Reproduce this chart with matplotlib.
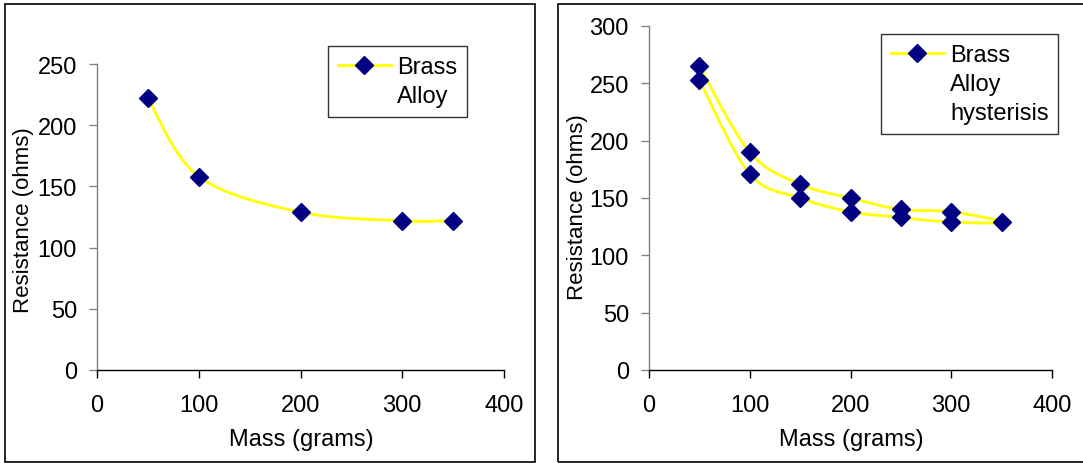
import numpy as np
import matplotlib
matplotlib.use("Agg")
import matplotlib.pyplot as plt
from matplotlib.lines import Line2D
from matplotlib.patches import Rectangle

plt.rcParams['font.family'] = ['Liberation Sans', 'DejaVu Sans']

# ---- data ----
left_mass = [50, 100, 200, 300, 350]
left_res = [222, 158, 129, 122, 122]

right_mass = [50, 100, 150, 200, 250, 300, 350, 300, 250, 200, 150, 100, 50]
right_res = [265, 190, 162, 150, 140, 138, 129, 129, 133, 138, 150, 171, 253]

left_xticks = [0, 100, 200, 300, 400]
left_yticks = [0, 50, 100, 150, 200, 250]
right_xticks = [0, 100, 200, 300, 400]
right_yticks = [0, 50, 100, 150, 200, 250, 300]

left_legend = ["Brass", "Alloy"]
right_legend = ["Brass", "Alloy", "hysterisis"]
xlabel = "Mass (grams)"
ylabel = "Resistance (ohms)"

LINE_C = "#FFFF00"
MARK_C = "#000080"
FS = 17
FS_Y = 16
LW = 2.0


def smooth(xs, ys, n=30):
    """Excel-like smoothed line: Catmull-Rom via cubic Bezier segments."""
    p = np.column_stack([xs, ys]).astype(float)
    out = []
    m = len(p)
    for i in range(m - 1):
        p0 = p[i - 1] if i > 0 else p[i]
        p1 = p[i]
        p2 = p[i + 1]
        p3 = p[i + 2] if i + 2 < m else p[i + 1]
        c1 = p1 + (p2 - p0) / 6.0
        c2 = p2 - (p3 - p1) / 6.0
        t = np.linspace(0, 1, n)[:, None]
        seg = ((1 - t) ** 3) * p1 + 3 * ((1 - t) ** 2) * t * c1 + 3 * (1 - t) * t ** 2 * c2 + t ** 3 * p2
        out.append(seg if i == 0 else seg[1:])
    s = np.vstack(out)
    return s[:, 0], s[:, 1]


W, H = 1083, 464
fig = plt.figure(figsize=(W / 100, H / 100), dpi=100)


def px_axes(x0, x1, ytop, ybot):
    return fig.add_axes([x0 / W, 1 - ybot / H, (x1 - x0) / W, (ybot - ytop) / H])


def style(ax, xt, yt):
    ax.set_xlim(xt[0], xt[-1])
    ax.set_ylim(yt[0], yt[-1])
    ax.set_xticks(xt)
    ax.set_yticks(yt)
    for s in ("top", "right"):
        ax.spines[s].set_visible(False)
    ax.spines["left"].set_color("#808080")
    ax.spines["bottom"].set_color("#000000")
    ax.spines["left"].set_linewidth(1.0)
    ax.spines["bottom"].set_linewidth(1.0)
    ax.tick_params(axis="y", direction="out", length=5.5, width=1.0, color="#808080",
                   pad=9, labelsize=FS)
    ax.tick_params(axis="x", direction="out", length=5.5, width=1.0, color="#000000",
                   pad=12, labelsize=FS)
    ax.patch.set_alpha(0)


def legend(ax, labels, loc_px):
    handles = [Line2D([], [], color=LINE_C, lw=LW, marker="D", ms=9,
                      mfc=MARK_C, mec=MARK_C)]
    handles += [Line2D([], [], color="none") for _ in labels[1:]]
    lg = ax.legend(handles, labels, loc="upper left",
                   bbox_to_anchor=(loc_px[0] / W, 1 - loc_px[1] / H),
                   bbox_transform=fig.transFigure, frameon=True, fancybox=False,
                   shadow=False, fontsize=FS, handlelength=2.25, handletextpad=0.25,
                   labelspacing=0.3, borderpad=0.42, borderaxespad=0)
    fr = lg.get_frame()
    fr.set_edgecolor("#000000")
    fr.set_linewidth(1.0)
    return lg


# left chart
axL = px_axes(97, 504, 65, 371)
xs, ys = smooth(left_mass, left_res)
axL.plot(xs, ys, color=LINE_C, lw=LW, zorder=2)
axL.plot(left_mass, left_res, ls="none", marker="D", ms=9, mfc=MARK_C, mec=MARK_C, zorder=3)
style(axL, left_xticks, left_yticks)
legend(axL, left_legend, (328, 47))
fig.text(301 / W, 1 - 440 / H, xlabel, ha="center", va="center", fontsize=FS)
fig.text(24 / W, 1 - 220 / H, ylabel, ha="center", va="center", rotation=90, fontsize=FS_Y)

# right chart
axR = px_axes(649, 1052, 27, 371)
xs, ys = smooth(right_mass, right_res)
axR.plot(xs, ys, color=LINE_C, lw=LW, zorder=2)
axR.plot(right_mass, right_res, ls="none", marker="D", ms=9, mfc=MARK_C, mec=MARK_C, zorder=3)
style(axR, right_xticks, right_yticks)
legend(axR, right_legend, (881, 35))
fig.text(851 / W, 1 - 440 / H, xlabel, ha="center", va="center", fontsize=FS)
fig.text(578 / W, 1 - 207 / H, ylabel, ha="center", va="center", rotation=90, fontsize=FS_Y)

# panel frames
fig.patches.append(Rectangle((5 / W, 1 - 463 / H), 530 / W, 458 / H, transform=fig.transFigure,
                             fill=False, edgecolor="#000000", lw=1.2))
fig.patches.append(Rectangle((558 / W, 1 - 463 / H), 540 / W, 458 / H, transform=fig.transFigure,
                             fill=False, edgecolor="#000000", lw=1.2))

fig.savefig("out.png", dpi=100, facecolor="white")
